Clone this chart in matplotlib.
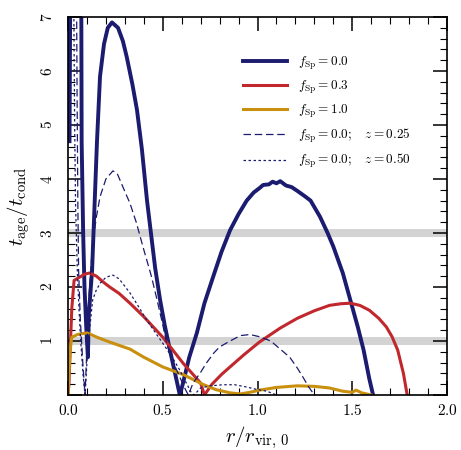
import matplotlib
matplotlib.use('Agg')
import matplotlib.pyplot as plt
from matplotlib.ticker import MultipleLocator, FuncFormatter
import numpy as np

plt.rcParams['mathtext.fontset'] = 'cm'
plt.rcParams['font.family'] = ['DejaVu Serif']

# f_Sp = 0.0, z = 0 (thick)
r_f00 = [0.008, 0.012, 0.025, 0.045, 0.065, 0.070, 0.072, 0.080, 0.087, 0.097, 0.105,
         0.110, 0.127, 0.140, 0.153, 0.169, 0.190, 0.210, 0.232, 0.264, 0.290, 0.310,
         0.340, 0.364, 0.390, 0.417, 0.460, 0.486, 0.510, 0.538, 0.565, 0.590, 0.607,
         0.640, 0.680, 0.720, 0.766, 0.810, 0.855, 0.900, 0.943, 0.980, 1.010, 1.030,
         1.060, 1.080, 1.100, 1.120, 1.150, 1.180, 1.210, 1.250, 1.280, 1.330, 1.370,
         1.400, 1.450, 1.500, 1.530, 1.560, 1.590, 1.610]
y_f00 = [4.7, 7.6, 11.0, 12.0, 8.5, 7.5, 4.7, 3.0, 2.0, 1.2, 0.7,
         1.5, 2.3, 3.5, 4.7, 5.9, 6.5, 6.8, 6.9, 6.8, 6.55, 6.26,
         5.75, 5.28, 4.55, 3.6, 2.35, 1.76, 1.3, 0.83, 0.4, 0.0, 0.22,
         0.7, 1.15, 1.7, 2.19, 2.65, 3.05, 3.35, 3.6, 3.75, 3.83, 3.89,
         3.9, 3.95, 3.92, 3.96, 3.88, 3.85, 3.78, 3.68, 3.6, 3.3, 3.0,
         2.75, 2.26, 1.63, 1.25, 0.83, 0.3, 0.0]

# f_Sp = 0.3
r_f03 = [0.0, 0.005, 0.010, 0.020, 0.032, 0.060, 0.090, 0.115, 0.150, 0.190, 0.220,
         0.270, 0.327, 0.400, 0.500, 0.607, 0.660, 0.700, 0.720, 0.760, 0.810, 0.855,
         0.930, 1.010, 1.120, 1.210, 1.300, 1.380, 1.440, 1.490, 1.540, 1.590, 1.640,
         1.680, 1.710, 1.740, 1.770, 1.790]
y_f03 = [0.0, 0.2, 0.7, 1.6, 2.12, 2.18, 2.24, 2.26, 2.2, 2.08, 2.0,
         1.88, 1.70, 1.45, 1.07, 0.59, 0.38, 0.22, 0.0, 0.2, 0.38, 0.52,
         0.75, 0.98, 1.24, 1.42, 1.56, 1.66, 1.69, 1.70, 1.66, 1.57, 1.42,
         1.26, 1.08, 0.83, 0.4, 0.0]

# f_Sp = 1.0
r_f10 = [0.0, 0.005, 0.012, 0.020, 0.050, 0.100, 0.160, 0.220, 0.327, 0.400, 0.500,
         0.607, 0.710, 0.780, 0.855, 0.910, 0.960, 1.010, 1.100, 1.210, 1.300, 1.380,
         1.450, 1.500, 1.520, 1.550, 1.600]
y_f10 = [0.0, 0.4, 0.85, 1.07, 1.12, 1.15, 1.06, 0.98, 0.85, 0.7, 0.52,
         0.38, 0.2, 0.1, 0.04, 0.02, 0.05, 0.09, 0.14, 0.17, 0.16, 0.13,
         0.07, 0.05, 0.09, 0.04, 0.0]

# f_Sp = 0.0, z = 0.25 (dashed)
r_z025 = [0.030, 0.045, 0.048, 0.052, 0.056, 0.065, 0.078, 0.090, 0.100, 0.112, 0.130,
          0.150, 0.169, 0.200, 0.237, 0.260, 0.290, 0.327, 0.360, 0.400, 0.440, 0.470,
          0.500, 0.520, 0.550, 0.590, 0.620, 0.635, 0.660, 0.700, 0.730, 0.770, 0.800,
          0.855, 0.910, 0.960, 1.010, 1.070, 1.120, 1.170, 1.210, 1.240, 1.270, 1.300]
y_z025 = [12.0, 7.5, 5.5, 3.5, 2.3, 1.4, 0.6, 0.0, 0.9, 1.9, 2.8,
          3.3, 3.67, 4.0, 4.15, 4.1, 3.85, 3.55, 3.2, 2.69, 2.2, 1.76,
          1.3, 0.96, 0.65, 0.33, 0.1, 0.0, 0.22, 0.42, 0.59, 0.78, 0.89,
          1.0, 1.1, 1.12, 1.08, 1.0, 0.85, 0.7, 0.5, 0.33, 0.15, 0.0]

# f_Sp = 0.0, z = 0.50 (dotted)
r_z050 = [0.020, 0.030, 0.035, 0.040, 0.050, 0.065, 0.080, 0.090, 0.105, 0.130, 0.150,
          0.170, 0.200, 0.237, 0.270, 0.327, 0.370, 0.415, 0.460, 0.500, 0.550, 0.590,
          0.620, 0.650, 0.665, 0.700, 0.750, 0.820, 0.880, 0.940, 1.000, 1.050, 1.100]
y_z050 = [12.0, 7.5, 5.0, 3.5, 2.2, 1.1, 0.35, 0.0, 0.9, 1.76, 1.95,
          2.07, 2.18, 2.22, 2.15, 1.89, 1.65, 1.39, 1.16, 0.96, 0.7, 0.46,
          0.25, 0.05, 0.0, 0.13, 0.17, 0.19, 0.19, 0.15, 0.1, 0.07, 0.0]

navy = '#1b1b6f'
red = '#c0282d'
gold = '#c8900e'

fig = plt.figure(figsize=(4.61, 4.50), dpi=100)
ax = fig.add_axes([68/461, 55/450, 379/461, 378/450])

# grey reference bands
for yb in [1.0, 3.0]:
    ax.axhspan(yb - 0.065, yb + 0.065, color='#d3d3d3', lw=0, zorder=0)

ax.plot(r_f00, y_f00, color=navy, lw=2.8, label=r'$f_{\rm Sp} = 0.0$')
ax.plot(r_f03, y_f03, color=red, lw=2.2, label=r'$f_{\rm Sp} = 0.3$')
ax.plot(r_f10, y_f10, color=gold, lw=2.2, label=r'$f_{\rm Sp} = 1.0$')
ax.plot(r_z025, y_z025, color=navy, lw=0.9, dashes=(6, 3),
        label=r'$f_{\rm Sp} = 0.0;\quad z = 0.25$')
ax.plot(r_z050, y_z050, color=navy, lw=0.9, dashes=(2, 2),
        label=r'$f_{\rm Sp} = 0.0;\quad z = 0.50$')

ax.set_xlim(0, 2.0)
ax.set_ylim(0, 7)

ax.xaxis.set_major_locator(MultipleLocator(0.5))
ax.xaxis.set_minor_locator(MultipleLocator(0.1))
ax.yaxis.set_major_locator(MultipleLocator(1))
ax.yaxis.set_minor_locator(MultipleLocator(0.2))

ax.xaxis.set_major_formatter(FuncFormatter(lambda v, p: r'$\mathsf{%.1f}$' % v))
ax.yaxis.set_major_formatter(FuncFormatter(lambda v, p: '' if v == 0 else r'$%d$' % v))

ax.tick_params(which='both', direction='in', top=True, right=True)
ax.tick_params(which='major', length=10, width=1.1)
ax.tick_params(which='minor', length=5, width=0.8)
ax.tick_params(axis='x', labelsize=11, pad=6)
ax.tick_params(axis='y', labelsize=11, pad=9, labelrotation=90)
for lab in ax.get_yticklabels():
    lab.set_va('center')
for s in ax.spines.values():
    s.set_linewidth(1.2)

ax.set_xlabel(r'$r/r_{\rm vir,\,0}$', fontsize=15, labelpad=4)
ax.set_ylabel(r'$t_{\rm age}/t_{\rm cond}$', fontsize=15, labelpad=6)

ax.legend(loc='upper left', bbox_to_anchor=(0.462, 0.90), frameon=False,
          fontsize=9.5, handlelength=3.3, handletextpad=0.85, labelspacing=0.53,
          borderpad=0, borderaxespad=0)

fig.savefig('out.png', dpi=100)
